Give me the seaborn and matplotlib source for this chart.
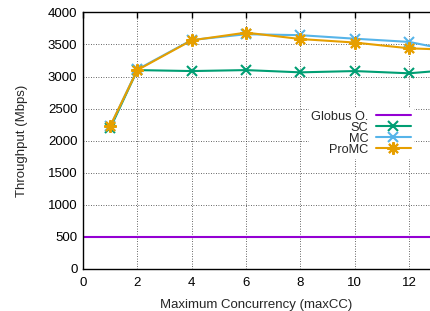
import numpy as np
import pandas as pd
import matplotlib
matplotlib.use('Agg')
from matplotlib import pyplot as plt
import seaborn as sns

### data
cc = [1, 2, 4, 6, 8, 10, 12, 14]
sc = [2190, 3100, 3085, 3100, 3065, 3085, 3050, 3120]
mc = [2220, 3110, 3570, 3660, 3645, 3590, 3540, 3370]
promc = [2225, 3100, 3565, 3685, 3585, 3530, 3440, 3410]
globus_cc = [0, 16]
globus = [500, 500]

sns.set_style('white')
plt.rcParams['font.family'] = ['Liberation Sans', 'DejaVu Sans']

fig = plt.figure(figsize=(4.3, 3.11), dpi=100)
ax = fig.add_axes([0.193, 0.136, 0.807, 0.824])

sns.lineplot(x=globus_cc, y=globus, ax=ax, color='#9400d3', lw=1.5, label='Globus O.')
sns.lineplot(x=cc, y=sc, ax=ax, color='#009e73', lw=1.5, marker='x', ms=7, mew=1.5,
             mec='#009e73', label='SC')
sns.lineplot(x=cc, y=mc, ax=ax, color='#56b4e9', lw=1.5, marker='x', ms=7, mew=1.5,
             mec='#56b4e9', label='MC')
sns.lineplot(x=cc, y=promc, ax=ax, color='#e69f00', lw=1.5, marker=(8, 2, 0), ms=9, mew=1.5,
             mec='#e69f00', label='ProMC')

ax.set_xlim(0, 12.77)
ax.set_ylim(0, 4000)
ax.set_xticks(range(0, 13, 2))
ax.set_yticks(range(0, 4001, 500))
ax.grid(True, color='#333333', linestyle=(0, (1, 2)), lw=0.6)
ax.tick_params(direction='in', length=4, width=1, top=True, labelsize=9.5, colors='black', pad=4)
ax.tick_params(axis='x', pad=6)
for s in ['left', 'top', 'bottom']:
    ax.spines[s].set_color('black')
    ax.spines[s].set_linewidth(1)
ax.spines['right'].set_visible(False)

ax.set_xlabel('Maximum Concurrency (maxCC)', fontsize=9.5, labelpad=7)
ax.set_ylabel('Throughput (Mbps)', fontsize=9.5, labelpad=14)

# gnuplot style key: label on the left, sample on the right
leg = ax.legend(loc='center right', bbox_to_anchor=(0.97, 0.529), fontsize=9.2, frameon=True,
                markerfirst=False, handlelength=2.7, handletextpad=0.6,
                labelspacing=-0.08, borderpad=0.2, fancybox=False)
leg.get_frame().set_edgecolor('white')
leg.get_frame().set_facecolor('white')
leg.get_frame().set_alpha(1)

plt.savefig('out.png', dpi=100)
